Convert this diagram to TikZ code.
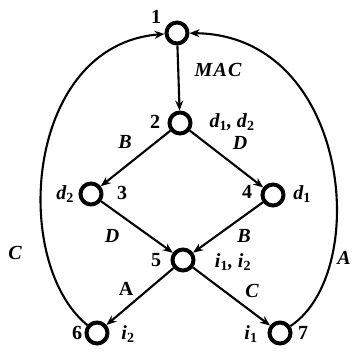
\documentclass[tikz,border=0pt]{standalone}
\usepackage{fontspec}
\setmainfont{Liberation Serif}
\usetikzlibrary{arrows.meta}
\newcommand\lsub[1]{\textsubscript{\upshape #1}}
\begin{document}
\begin{tikzpicture}[x=1pt,y=-1pt,
  vtx/.style={circle,draw,line width=4pt,minimum size=21pt,inner sep=0pt},
  edge/.style={line width=2.1pt,-{Stealth[length=10pt,width=8pt]}},
  lbl/.style={inner sep=0pt,font=\fontsize{20}{24}\selectfont\bfseries},
  ilbl/.style={inner sep=0pt,font=\fontsize{20}{24}\selectfont\bfseries\itshape}]
\useasboundingbox (0,0) rectangle (352,351);
\node[vtx] (n1) at (177,33) {};
\node[vtx] (n2) at (180,123) {};
\node[vtx] (n3) at (91,194) {};
\node[vtx] (n4) at (273,195) {};
\node[vtx] (n5) at (183,260) {};
\node[vtx] (n6) at (97,333) {};
\node[vtx] (n7) at (280,333) {};
\draw[edge] (n1) -- (n2);
\draw[edge] (n2) -- (n3);
\draw[edge] (n2) -- (n4);
\draw[edge] (n3) -- (n5);
\draw[edge] (n4) -- (n5);
\draw[edge] (n5) -- (n6);
\draw[edge] (n5) -- (n7);
\draw[edge] (n6) .. controls (10,262) and (25,45) .. (n1);
\draw[edge] (n7) .. controls (372,272) and (350,35) .. (n1);
\node[lbl] (t1) at (156,17) {1};
\node[ilbl] (tmac) at (218,70) {\addfontfeatures{LetterSpace=6}MAC};
\node[lbl] (t2) at (155,122) {2};
\node[ilbl] (td12) at (232,122) {d\lsub{1}, d\lsub{2}};
\node[ilbl] (tb1) at (125,142) {B};
\node[ilbl] (td1) at (240,143) {D};
\node[ilbl] (td2) at (65,194) {d\lsub{2}};
\node[lbl] (t3) at (122,193) {3};
\node[lbl] (t4) at (247,192) {4};
\node[ilbl] (tdd1) at (302,194) {d\lsub{1}};
\node[ilbl] (td2b) at (112,236) {D};
\node[ilbl] (tb2) at (244,236) {B};
\node[lbl] (t5) at (156,260) {5};
\node[ilbl] (ti12) at (233,262) {i\lsub{1}, i\lsub{2}};
\node[lbl] (ta1) at (126,289) {A};
\node[ilbl] (tc1) at (252,291) {C};
\node[lbl] (t6) at (77,333) {6};
\node[ilbl] (ti2) at (128,334) {i\lsub{2}};
\node[ilbl] (ti1) at (251,334) {i\lsub{1}};
\node[lbl] (t7) at (303,333) {7};
\node[ilbl] (tcl) at (15,253) {C};
\node[ilbl,anchor=east] (tar) at (351,258) {A};
\end{tikzpicture}
\end{document}
